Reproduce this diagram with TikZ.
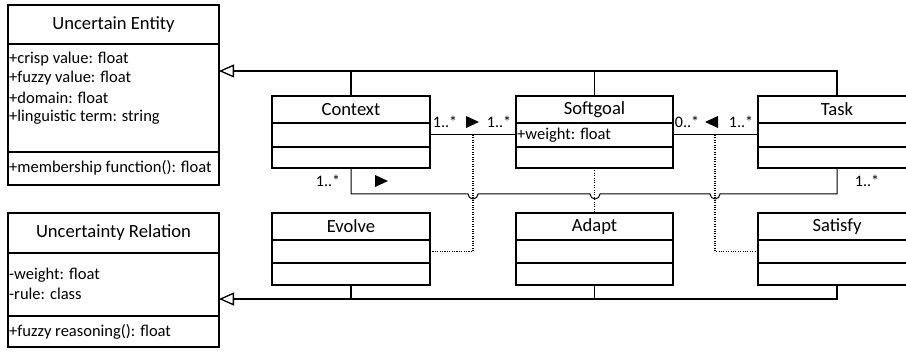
\documentclass[tikz,border=0pt]{standalone}
\usepackage{fontspec}
\setmainfont{Carlito}
\usetikzlibrary{arrows.meta}
\begin{document}
\begin{tikzpicture}[x=1pt,y=-1pt,
  comp/.style 2 args={draw, line width=1.3pt, minimum width=#1, minimum height=#2,
    anchor=north west, inner sep=0pt, outer sep=0pt, font=\fontsize{18.6}{21}\selectfont},
  attr/.style={anchor=west, inner sep=0.5pt, font=\fontsize{16.5}{19}\selectfont},
  mult/.style={inner sep=0pt, font=\fontsize{16}{19}\selectfont},
  conn/.style={line width=1pt},
  gen/.style={line width=1.3pt, -{Triangle[open, length=15pt, width=13pt, line width=1.3pt]}},
  dep/.style={line width=1.1pt, dash pattern=on 1.1pt off 1.3pt},
  dir/.style={fill=black}]
\useasboundingbox (0,0) rectangle (906,352);

% Uncertain Entity
\node[comp={211pt}{39pt}] (ue) at (8,5) {Uncertain Entity};
\node[comp={211pt}{108pt}] (ueA) at (ue.south west) {};
\node[comp={211pt}{33pt}] (ueM) at (ueA.south west) {};
\node[attr] (ue1) at (8.5,59) {+crisp value: float};
\node[attr] (ue2) at (8.5,78) {+fuzzy value: float};
\node[attr] (ue3) at (8.5,98) {+domain: float};
\node[attr] (ue4) at (8.5,117) {+linguistic term: string};
\node[attr] (ue5) at (8.5,168) {+membership function(): float};

% Uncertainty Relation
\node[comp={211pt}{40pt}] (ur) at (8,213) {Uncertainty Relation};
\node[comp={211pt}{63pt}] (urA) at (ur.south west) {};
\node[comp={211pt}{31pt}] (urM) at (urA.south west) {};
\node[attr] (ur1) at (8.5,275) {-weight: float};
\node[attr] (ur2) at (8.5,294) {-rule: class};
\node[attr] (ur3) at (8.5,332) {+fuzzy reasoning(): float};

% Context
\node[comp={158pt}{27pt}] (ctx) at (272,96) {Context};
\node[comp={158pt}{24pt}] (ctxA) at (ctx.south west) {};
\node[comp={158pt}{21pt}] (ctxM) at (ctxA.south west) {};
% Softgoal
\node[comp={157pt}{27pt}] (sg) at (516,96) {Softgoal};
\node[comp={157pt}{24pt}] (sgA) at (sg.south west) {};
\node[comp={157pt}{21pt}] (sgM) at (sgA.south west) {};
\node[attr] (sg1) at (516.5,135) {+weight: float};
% Task
\node[comp={158pt}{27pt}] (tk) at (758,96) {Task};
\node[comp={158pt}{24pt}] (tkA) at (tk.south west) {};
\node[comp={158pt}{21pt}] (tkM) at (tkA.south west) {};

% Evolve
\node[comp={158pt}{27pt}] (ev) at (272,213) {Evolve};
\node[comp={158pt}{23pt}] (evA) at (ev.south west) {};
\node[comp={158pt}{22pt}] (evM) at (evA.south west) {};
% Adapt
\node[comp={157pt}{27pt}] (ad) at (516,213) {Adapt};
\node[comp={157pt}{23pt}] (adA) at (ad.south west) {};
\node[comp={157pt}{22pt}] (adM) at (adA.south west) {};
% Satisfy
\node[comp={158pt}{27pt}] (sa) at (758,213) {Satisfy};
\node[comp={158pt}{23pt}] (saA) at (sa.south west) {};
\node[comp={158pt}{22pt}] (saM) at (saA.south west) {};

% coordinates
\coordinate (ueTip) at (219,71);
\coordinate (urTip) at (219,299);
\coordinate (topY) at (0,71);
\coordinate (botY) at (0,299);
\coordinate (j1) at (473,135);
\coordinate (j3) at (715,135);

% generalisations
\draw[gen] (tk.north) |- (ueTip);
\draw[line width=1.3pt] (ctx.north) -- (ctx.north |- topY);
\draw[line width=1.3pt] (sg.north) -- (sg.north |- topY);
\draw[gen] (saM.south) |- (urTip);
\draw[line width=1.3pt] (evM.south) -- (evM.south |- botY);
\draw[line width=1.3pt] (adM.south) -- (adM.south |- botY);

% associations
\draw[conn] (ctxA.east) -- (sgA.west);
\draw[conn] (sgA.east) -- (tkA.west);
\draw[conn] (ctxM.south) -- (351,194) -- (468,194) arc[start angle=180, end angle=0, radius=5]
  -- (590,194) arc[start angle=180, end angle=0, radius=5]
  -- (710,194) arc[start angle=180, end angle=0, radius=5]
  -- (tkM.south |- 0,194) -- (tkM.south);

% dependencies
\draw[dep] (j1) -- (473,251.5) -- (evA.east);
\draw[dep] (sgM.south) -- (ad.north);
\draw[dep] (j3) -- (715,251.5) -- (saA.west);

% multiplicities
\node[mult] (m1) at (445,122) {1..*};
\node[mult] (m2) at (499,122) {1..*};
\node[mult] (m3) at (687,122) {0..*};
\node[mult] (m4) at (741,122) {1..*};
\node[mult] (m5) at (328,181) {1..*};
\node[mult] (m6) at (867,181) {1..*};
\fill[dir] (466,116) -- (479,122) -- (466,128) -- cycle;
\fill[dir] (718,116) -- (705,122) -- (718,128) -- cycle;
\fill[dir] (375,175) -- (388,181) -- (375,187) -- cycle;
\end{tikzpicture}
\end{document}
